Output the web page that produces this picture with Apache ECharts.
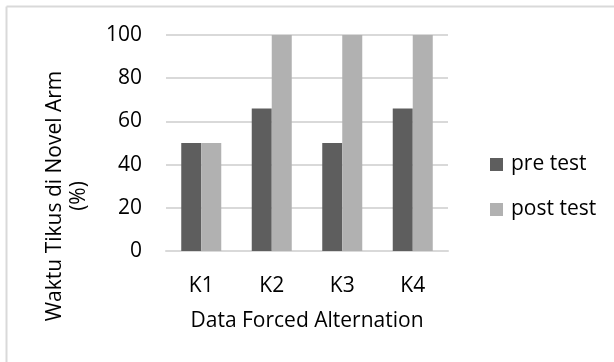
<!DOCTYPE html>
<html>
<head>
<meta charset="utf-8">
<script src="https://cdn.jsdelivr.net/npm/echarts@6/dist/echarts.min.js"></script>
<style>html,body{margin:0;padding:0;background:#fff;}#c{width:614px;height:362px;}</style>
</head>
<body>
<div id="c"></div>
<script>
const categories = ['K1', 'K2', 'K3', 'K4'];
const preTest = [50, 66, 50, 66];
const postTest = [50, 100, 100, 100];
const seriesNames = ['pre test', 'post test'];
const yTitleLines = ['Waktu Tikus di Novel Arm', '(%)'];
const xTitle = 'Data Forced Alternation';

const FONT = 'Open Sans';
const FS = 21;
const chart = echarts.init(document.getElementById('c'), null, {renderer: 'canvas'});
chart.setOption({
  animation: false,
  backgroundColor: '#fff',
  textStyle: {fontFamily: FONT},
  graphic: [
    {type: 'line', shape: {x1: 6.5, y1: 6.5, x2: 614, y2: 6.5}, style: {stroke: '#d9d9d9', lineWidth: 2}},
    {type: 'line', shape: {x1: 6.5, y1: 6.5, x2: 6.5, y2: 362}, style: {stroke: '#d9d9d9', lineWidth: 2}},
    {type: 'text', x: 55, y: 196, rotation: Math.PI / 2,
     style: {text: yTitleLines[0], font: FS + 'px "Open Sans"', fill: '#000', textAlign: 'center', textVerticalAlign: 'middle'}},
    {type: 'text', x: 79, y: 196, rotation: Math.PI / 2,
     style: {text: yTitleLines[1], font: FS + 'px "Open Sans"', fill: '#000', textAlign: 'center', textVerticalAlign: 'middle'}}
  ],
  grid: {left: 166, right: 166, top: 35, bottom: 111, containLabel: false},
  legend: {
    orient: 'vertical', left: 490, top: 154, padding: 0,
    itemWidth: 13, itemHeight: 13, itemGap: 24,
    icon: 'rect',
    textStyle: {fontSize: FS, color: '#000', fontFamily: FONT, padding: [0, 0, 0, 3]},
    data: seriesNames
  },
  xAxis: {
    type: 'category', data: categories,
    axisLine: {show: true, lineStyle: {color: '#d9d9d9', width: 2}},
    axisTick: {show: false},
    axisLabel: {fontSize: FS, color: '#000', margin: 25, fontFamily: FONT},
    name: xTitle, nameLocation: 'middle', nameGap: 60,
    nameTextStyle: {fontSize: FS, color: '#000', fontFamily: FONT}
  },
  yAxis: {
    type: 'value', min: 0, max: 100, interval: 20,
    axisLine: {show: false}, axisTick: {show: false},
    axisLabel: {fontSize: FS, color: '#000', margin: 24, fontFamily: FONT},
    splitLine: {lineStyle: {color: '#d9d9d9', width: 2}}
  },
  series: [
    {name: seriesNames[0], type: 'bar', data: preTest, barWidth: 20, barGap: '0%',
     itemStyle: {color: '#5e5e5e'}},
    {name: seriesNames[1], type: 'bar', data: postTest, barWidth: 20, barGap: '0%',
     itemStyle: {color: '#b1b1b1'}}
  ]
});
</script>
</body>
</html>
